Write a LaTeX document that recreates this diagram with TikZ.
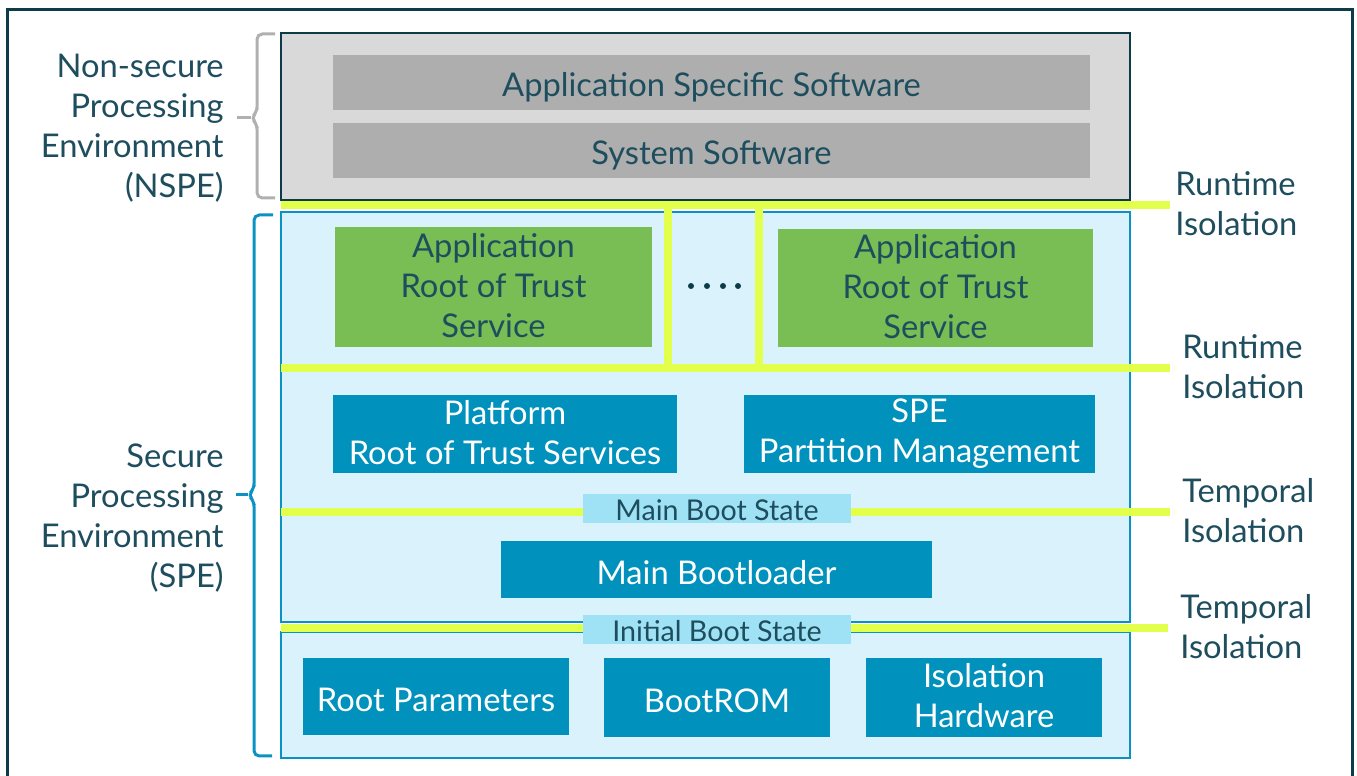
\documentclass[tikz,border=0pt]{standalone}
\usepackage{fontspec}
\setmainfont{Lato}
\usetikzlibrary{positioning}
\definecolor{tinta}{RGB}{30,78,94}
\definecolor{marco}{RGB}{14,59,74}
\definecolor{grisclaro}{RGB}{217,217,217}
\definecolor{grisoscuro}{RGB}{174,174,174}
\definecolor{grisllave}{RGB}{176,176,176}
\definecolor{azul}{RGB}{0,145,189}
\definecolor{azulborde}{RGB}{10,147,194}
\definecolor{celestito}{RGB}{218,242,251}
\definecolor{celeste}{RGB}{160,226,245}
\definecolor{verde}{RGB}{120,190,85}
\definecolor{lima}{RGB}{226,255,75}
\newlength{\pxu}
\setlength{\pxu}{0.02cm}
\newcommand{\bigfont}{\fontsize{18.6}{22.7}\selectfont}
\newcommand{\capstrut}{\rule[-2pt]{0pt}{21.5pt}}
\newcommand{\smallstrut}{\rule[-1.5pt]{0pt}{16.3pt}}
\tikzset{
  sz/.style 2 args={minimum width=#1*\pxu, minimum height=#2*\pxu},
  block/.style={inner sep=0pt, align=center, font=\bigfont,
    execute at begin node=\capstrut, execute at end node=\capstrut},
  nsblock/.style={block, fill=grisoscuro, text=tinta},
  artblock/.style={block, fill=verde, text=tinta},
  rotblock/.style={block, fill=azul, text=white},
  stateblock/.style={inner sep=0pt, align=center, fill=celeste, text=tinta,
    font=\fontsize{16.3}{18}\selectfont,
    execute at begin node=\smallstrut, execute at end node=\smallstrut},
  envbox/.style={inner sep=0pt, fill=celestito, draw=azulborde, line width=2*\pxu},
  isoline/.style={draw=lima, line width=8*\pxu},
  sidelabel/.style={inner sep=0pt, text=tinta, font=\bigfont,
    execute at begin node=\capstrut, execute at end node=\capstrut},
}
\begin{document}
\begin{tikzpicture}[x=0.02cm, y=-0.02cm]
  \useasboundingbox (0,0) rectangle (1357,776);

  % outer frame
  \draw[marco, line width=3*\pxu] (7,776) -- (7,10) -- (1352,10) -- (1352,776);

  % braces
  \draw[grisllave, line width=3*\pxu, rounded corners=3pt]
    (275,34) -- (257,34) -- (257,112) -- (251,118) -- (257,124) -- (257,198) -- (275,198);
  \draw[grisllave, line width=3*\pxu] (251,118) -- (237,118);
  \draw[azulborde, line width=3*\pxu, rounded corners=3pt]
    (273,215) -- (254,215) -- (254,489) -- (248,495) -- (254,501) -- (254,756) -- (272,756);
  \draw[azulborde, line width=3*\pxu] (248,495) -- (236,495);

  % non-secure side
  \node[inner sep=0pt, fill=grisclaro, draw=marco, line width=2*\pxu, sz={849}{167}] (nspe) at (705.5,116.5) {};
  \node[nsblock, sz={757}{55}] (appsw) at (711.5,82.5) {Application Specific Software};
  \node[nsblock, sz={757}{55}] (syssw) at (711.5,150.5) {System Software};

  % secure side
  \node[envbox, sz={849}{410}] (speup) at (705.5,417) {};
  \node[envbox, sz={849}{126}] (spelow) at (705.5,695) {};

  % isolation lines
  \coordinate (rtA) at (1170,205);
  \coordinate (rtB) at (1170,368);
  \coordinate (tpA) at (1170,512);
  \coordinate (tpB) at (1168,628);
  \draw[isoline] (281,205) -- (rtA);
  \draw[isoline] (281,368) -- (rtB);
  \draw[isoline] (281,512) -- (tpA);
  \draw[isoline] (281,628) -- (tpB);
  \draw[isoline] (668,205) -- (668,368);
  \draw[isoline] (759,205) -- (759,368);

  \node[artblock, sz={317}{120}] (art1) at (493.5,287) {Application\\Root of Trust\\Service};
  \node[artblock, sz={315}{118}] (art2) at (935.5,288) {Application\\Root of Trust\\Service};
  \foreach \dx in {691,707,723,738}
    \fill[marco] (\dx,286) circle (3);

  \node[rotblock, sz={344}{78}] (prot) at (505,434) {Platform\\Root of Trust Services};
  \node[rotblock, sz={351}{78}] (spm) at (919.5,434) {SPE\\Partition Management};
  \node[stateblock, sz={268}{29}] (mbs) at (717,508.5) {Main Boot State};
  \node[rotblock, sz={431}{57}] (mbl) at (716.5,569.5) {Main Bootloader};
  \node[stateblock, sz={268}{29}] (ibs) at (717,629.5) {Initial Boot State};
  \node[rotblock, sz={266}{77}] (rootpar) at (436,696.5) {Root Parameters};
  \node[rotblock, sz={226}{79}] (bootrom) at (717,697.5) {BootROM};
  \node[rotblock, sz={236}{79}] (isohw) at (984,697.5) {Isolation\\Hardware};

  % labels
  \node[sidelabel, align=right, anchor=east] (nspelabel) at (224,128) {Non-secure\\Processing\\Environment\\(NSPE)};
  \node[sidelabel, align=right, anchor=east] (spelabel) at (224,518) {Secure\\Processing\\Environment\\(SPE)};
  \node[sidelabel, align=left, right=0.1cm of rtA] (rt1) {Runtime\\Isolation};
  \node[sidelabel, align=left, right=0.24cm of rtB] (rt2) {Runtime\\Isolation};
  \node[sidelabel, align=left, right=0.24cm of tpA] (tp1) {Temporal\\Isolation};
  \node[sidelabel, align=left, right=0.24cm of tpB] (tp2) {Temporal\\Isolation};
\end{tikzpicture}
\end{document}
